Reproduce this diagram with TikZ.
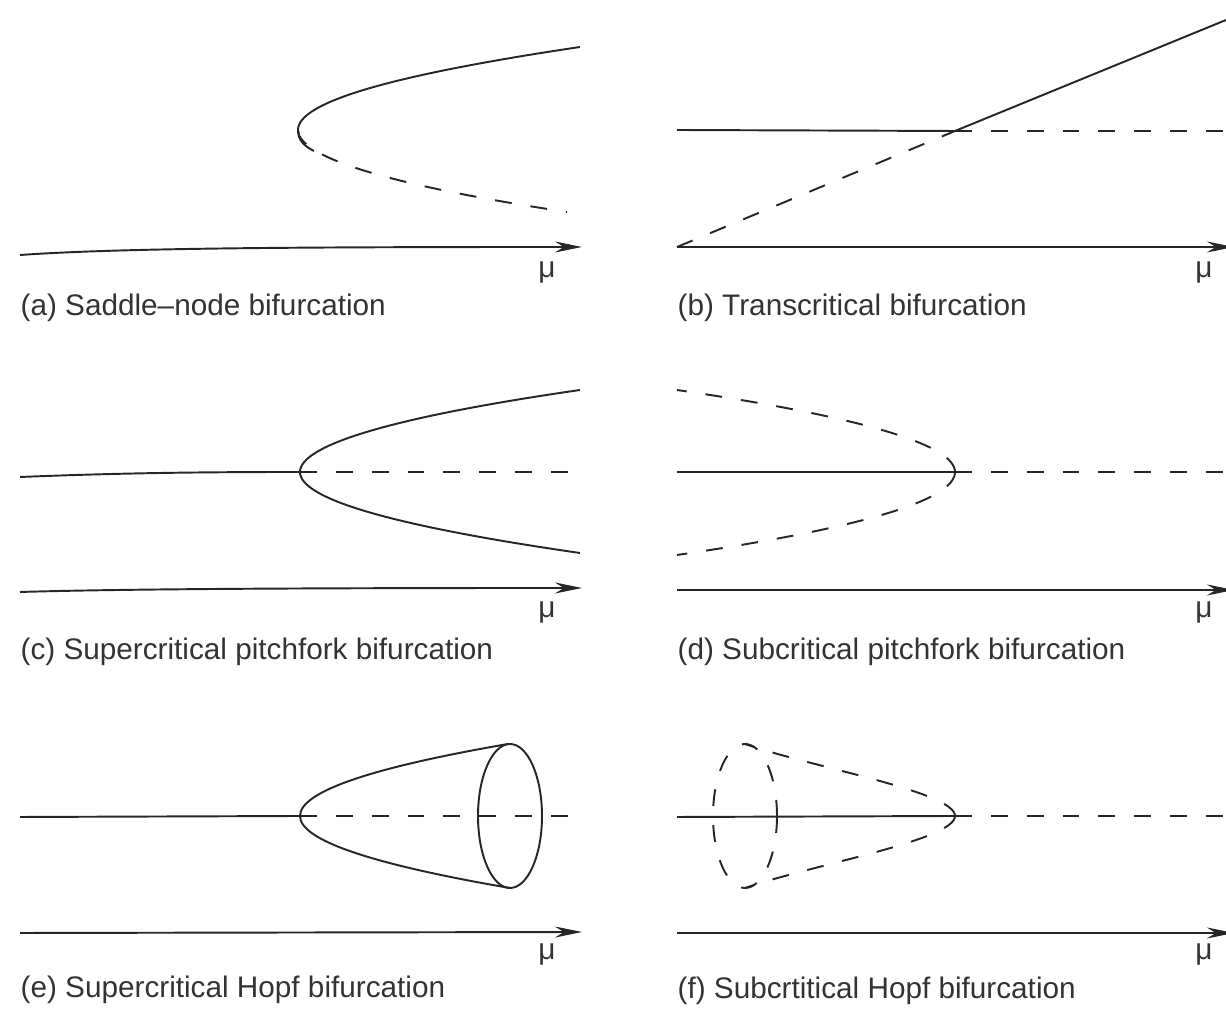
\documentclass[tikz,border=0pt]{standalone}
\usepackage{fontspec}
\setmainfont{Liberation Sans}
\usetikzlibrary{arrows.meta}

\begin{document}
\begin{tikzpicture}[
    x=0.01cm, y=-0.01cm,
    font=\fontsize{8.45}{10}\selectfont,
    curve/.style={line width=0.55pt, draw=black!85},
    unstable/.style={curve, dash pattern=on 4.8pt off 5.4pt},
    axis/.style={curve, -{Stealth[length=2.7mm, width=1.1mm]}},
    caption/.style={anchor=base west, inner sep=0pt, text=black!80},
    mulabel/.style={anchor=base, inner sep=0pt, text=black!80}
  ]
  \useasboundingbox (0,0) rectangle (1226,1010);

  % (a) saddle-node
  \coordinate (a0) at (20,255);
  \coordinate (a1) at (582,247);
  \coordinate (sn) at (298,130);
  \coordinate (snup) at (580,47);
  \coordinate (snlo) at (567,212);
  \draw[axis] (a0) .. controls (120,248) and (300,247) .. (a1);
  \draw[curve] (sn) .. controls (298,102) and (392,75) .. (snup);
  \draw[curve] (sn) .. controls (298,140) and (304,146) .. (314,151);
  \draw[unstable] (sn) .. controls (298,157) and (388,185) .. (snlo);
  \node[mulabel] (mua) at (547,278) {μ};
  \node[caption] (capa) at (20,316) {(a) Saddle–node bifurcation};

  % (b) transcritical
  \coordinate (b0) at (677,247);
  \coordinate (b1) at (1234,247);
  \coordinate (tc) at (955,131);
  \coordinate (tcl) at (677,130);
  \coordinate (tcr) at (1226,131);
  \coordinate (tcup) at (1226,20);
  \draw[axis] (b0) -- (b1);
  \draw[curve] (tcl) -- (tc);
  \draw[unstable] (tc) -- (tcr);
  \draw[unstable] (b0) -- (tc);
  \draw[curve] (tc) -- (tcup);
  \node[mulabel] (mub) at (1204,278) {μ};
  \node[caption] (capb) at (677,316) {(b) Transcritical bifurcation};

  % (c) supercritical pitchfork
  \coordinate (c0) at (20,592);
  \coordinate (c1) at (582,588);
  \coordinate (pf) at (300,472);
  \coordinate (pfl) at (20,477);
  \coordinate (pfr) at (576,472);
  \coordinate (pfup) at (580,390);
  \coordinate (pflo) at (580,553);
  \draw[axis] (c0) .. controls (120,589) and (300,588) .. (c1);
  \draw[curve] (pfl) .. controls (120,473) and (200,472) .. (pf);
  \draw[unstable] (pf) -- (pfr);
  \draw[curve] (pf) .. controls (300,445) and (393,417) .. (pfup);
  \draw[curve] (pf) .. controls (300,499) and (393,526) .. (pflo);
  \node[mulabel] (muc) at (547,618) {μ};
  \node[caption] (capc) at (20,660) {(c) Supercritical pitchfork bifurcation};

  % (d) subcritical pitchfork
  \coordinate (d0) at (677,590);
  \coordinate (d1) at (1234,590);
  \coordinate (sp) at (955,472);
  \coordinate (spl) at (677,472);
  \coordinate (spr) at (1226,472);
  \coordinate (spup) at (677,390);
  \coordinate (splo) at (677,555);
  \draw[axis] (d0) -- (d1);
  \draw[curve] (spl) -- (sp);
  \draw[unstable] (sp) -- (spr);
  \draw[unstable] (sp) .. controls (955,445) and (862,417) .. (spup);
  \draw[unstable] (sp) .. controls (955,500) and (862,528) .. (splo);
  \node[mulabel] (mud) at (1204,618) {μ};
  \node[caption] (capd) at (677,660) {(d) Subcritical pitchfork bifurcation};

  % (e) supercritical Hopf
  \coordinate (e0) at (20,933);
  \coordinate (e1) at (582,932);
  \coordinate (hp) at (300,816);
  \coordinate (hpl) at (20,817);
  \coordinate (hpr) at (576,816);
  \coordinate (hpup) at (508,744);
  \coordinate (hplo) at (510,888);
  \coordinate (lc) at (510,816);
  \draw[axis] (e0) -- (e1);
  \draw[curve] (hpl) -- (hp);
  \draw[unstable] (hp) -- (hpr);
  \draw[curve] (hp) .. controls (300,792) and (369,768) .. (hpup);
  \draw[curve] (hp) .. controls (300,840) and (370,864) .. (hplo);
  \draw[curve] (lc) ellipse [x radius=32, y radius=72];
  \node[mulabel] (mue) at (547,960) {μ};
  \node[caption] (cape) at (20,998) {(e) Supercritical Hopf bifurcation};

  % (f) subcritical Hopf
  \coordinate (f0) at (677,933);
  \coordinate (f1) at (1234,933);
  \coordinate (sh) at (955,816);
  \coordinate (shl) at (677,817);
  \coordinate (shr) at (1226,816);
  \coordinate (shup) at (745,744);
  \coordinate (shlo) at (745,888);
  \coordinate (ulc) at (745,816);
  \draw[axis] (f0) -- (f1);
  \draw[curve] (shl) -- (sh);
  \draw[unstable] (sh) -- (shr);
  \draw[unstable] (sh) .. controls (955,792) and (815,768) .. (shup);
  \draw[unstable] (sh) .. controls (955,840) and (815,864) .. (shlo);
  \draw[unstable] (ulc) ellipse [x radius=32, y radius=72];
  \node[mulabel] (muf) at (1204,960) {μ};
  \node[caption] (capf) at (677,999) {(f) Subcrtitical Hopf bifurcation};
\end{tikzpicture}
\end{document}
